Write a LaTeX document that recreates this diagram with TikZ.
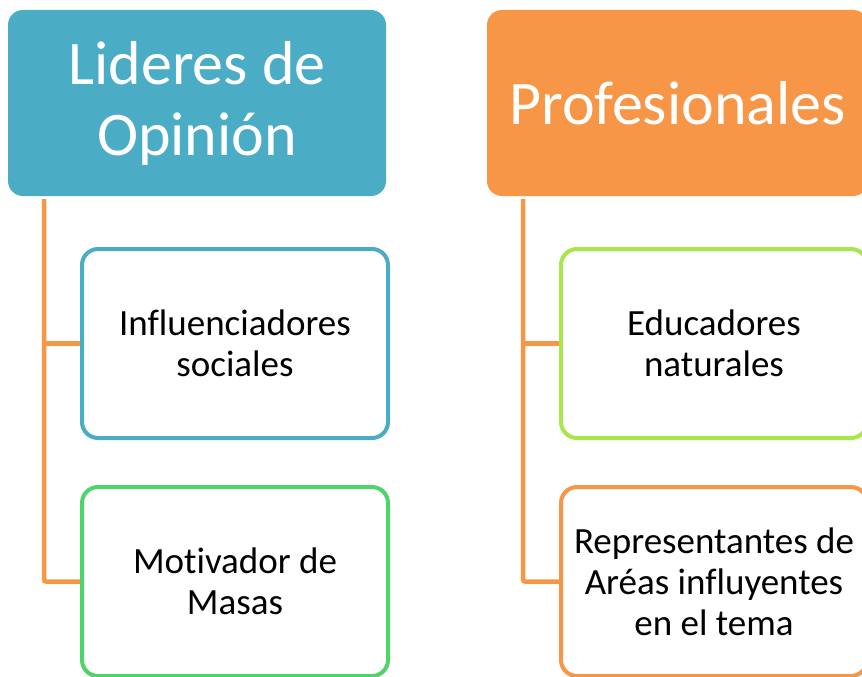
\documentclass[tikz,border=0pt]{standalone}
\usepackage{fontspec}
\setmainfont{Carlito}[Ligatures=NoCommon]
\definecolor{teal1}{HTML}{4BACC6}
\definecolor{orange1}{HTML}{F79646}
\definecolor{green1}{HTML}{4FD46C}
\definecolor{lime1}{HTML}{A8E64B}
\begin{document}
\begin{tikzpicture}[x=1pt,y=-1pt,
  header/.style={rectangle, rounded corners=15pt, inner sep=0pt, align=center,
    text=white, font=\fontsize{62}{71}\selectfont},
  child/.style={rectangle, rounded corners=16pt, line width=4pt, fill=white,
    minimum width=306pt, minimum height=189pt, inner sep=0pt, align=center,
    font=\fontsize{37}{41}\selectfont},
  conn/.style={draw=orange1, line width=4.5pt, rounded corners=2pt}]
\useasboundingbox (0,0) rectangle (862,677);
\node[header, fill=teal1, minimum width=378pt, minimum height=186pt] (lh) at (197,103) {Lideres de\\Opinión};
\node[header, fill=orange1, minimum width=381pt, minimum height=186pt] (rh) at (677.5,103) {Profesionales};
\node[child, draw=teal1] (l1) at (235,343.5) {Influenciadores\\sociales};
\node[child, draw=green1] (l2) at (235,581.5) {Motivador de\\Masas};
\node[child, draw=lime1] (r1) at (714,343.5) {Educadores\\naturales};
\node[child, draw=orange1] (r2) at (714,581.5) {Representantes de\\Aréas influyentes\\en el tema};
\coordinate (lt) at (44,199);
\coordinate (rt) at (523,199);
\draw[conn] (lt) |- (l2.west);
\draw[conn] (lt |- l1.west) -- (l1.west);
\draw[conn] (rt) |- (r2.west);
\draw[conn] (rt |- r1.west) -- (r1.west);
\end{tikzpicture}
\end{document}
